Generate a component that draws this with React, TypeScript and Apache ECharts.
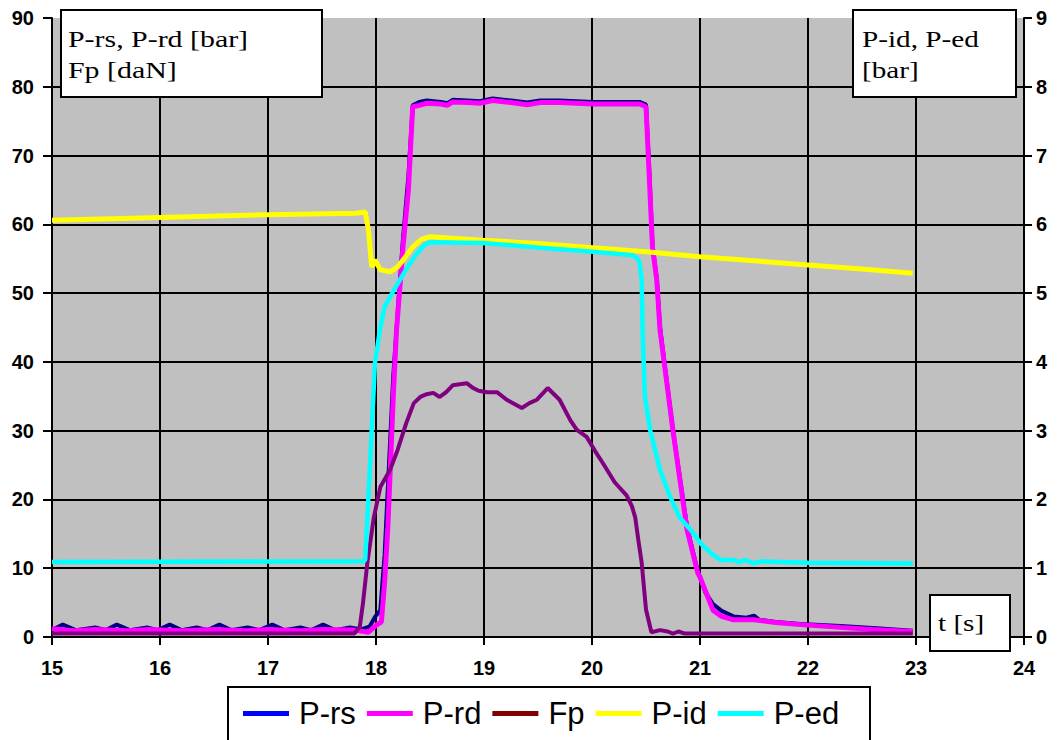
import React, { useEffect, useRef } from "react";
import * as echarts from "echarts";

// Time axis [s] and value pairs [t, value] for each recorded channel
const xTicks = { min: 15, max: 24, step: 1 };
const leftTicks = { min: 0, max: 90, step: 10 };
const rightTicks = { min: 0, max: 9, step: 1 };

const seriesNames = ["P-rs", "P-rd", "Fp", "P-id", "P-ed"];
const legendColors = ["#0000FF", "#FF00FF", "#800000", "#FFFF00", "#00FFFF"];
const lineColors = ["#000080", "#FF00FF", "#800080", "#FFFF00", "#00FFFF"];

// P-rs [bar]
const pRs: [number, number][] = [
  [15.0, 1.0], [15.1, 1.8], [15.22, 1.0], [15.4, 1.4], [15.5, 1.0], [15.6, 1.8],
  [15.72, 1.0], [15.88, 1.4], [15.98, 1.0], [16.09, 1.8], [16.2, 1.0], [16.34, 1.4],
  [16.44, 1.0], [16.55, 1.8], [16.66, 1.0], [16.81, 1.4], [16.92, 1.0], [17.04, 1.8],
  [17.15, 1.0], [17.3, 1.4], [17.4, 1.0], [17.51, 1.8], [17.62, 1.0], [17.76, 1.4],
  [17.86, 1.1], [17.94, 1.5], [17.99, 2.9], [18.04, 3.9], [18.08, 12], [18.12, 25],
  [18.16, 38], [18.2, 47], [18.25, 58], [18.3, 67], [18.34, 77.3], [18.4, 77.8],
  [18.47, 78.0], [18.6, 77.8], [18.66, 77.6], [18.71, 78.1], [18.85, 78.0], [18.96, 77.9],
  [19.08, 78.3], [19.25, 78.0], [19.4, 77.7], [19.52, 78.0], [19.7, 78.0], [20.01, 77.8],
  [20.2, 77.8], [20.44, 77.8], [20.5, 77.4], [20.53, 68], [20.56, 57], [20.6, 52],
  [20.63, 45], [20.75, 30], [20.88, 16], [20.98, 9.5], [21.05, 6.5], [21.12, 4.8],
  [21.2, 3.8], [21.31, 3.0], [21.43, 2.8], [21.5, 3.1], [21.55, 2.5], [21.7, 2.2],
  [21.93, 1.9], [22.3, 1.6], [22.6, 1.3], [22.97, 0.9],
];

// P-rd [bar]
const pRd: [number, number][] = [
  [15.0, 1.2], [15.2, 0.9], [15.4, 1.1], [15.7, 0.9], [15.9, 1.1], [16.2, 0.9],
  [16.5, 1.1], [16.8, 0.9], [17.0, 1.1], [17.3, 0.9], [17.5, 1.1], [17.8, 1.0],
  [17.93, 0.7], [18.0, 1.7], [18.05, 2.2], [18.08, 8], [18.11, 16], [18.16, 35],
  [18.19, 44.6], [18.25, 56.7], [18.3, 65], [18.34, 77.1], [18.4, 77.3], [18.47, 77.6],
  [18.6, 77.5], [18.66, 77.3], [18.71, 77.8], [18.85, 77.7], [18.96, 77.6], [19.08, 78.0],
  [19.25, 77.7], [19.4, 77.4], [19.52, 77.7], [19.7, 77.7], [20.01, 77.5], [20.2, 77.5],
  [20.44, 77.5], [20.5, 77.1], [20.53, 67], [20.56, 56.7], [20.6, 51.9], [20.63, 44.6],
  [20.75, 30], [20.84, 20], [20.88, 15.6], [20.98, 9.3], [21.0, 8.7], [21.12, 3.9],
  [21.2, 3.0], [21.31, 2.5], [21.5, 2.5], [21.7, 2.1], [21.93, 1.8], [22.3, 1.4],
  [22.6, 1.1], [22.97, 0.8],
];

// Fp [daN]
const fp: [number, number][] = [
  [15.0, 0.5], [17.8, 0.5], [17.85, 1.5], [17.88, 5], [17.92, 10.8], [17.98, 17.4],
  [18.04, 21.8], [18.13, 24.3], [18.2, 27.2], [18.28, 31.1], [18.35, 34.0], [18.41, 34.9],
  [18.47, 35.3], [18.53, 35.5], [18.59, 34.9], [18.65, 35.6], [18.71, 36.6], [18.84, 36.9],
  [18.9, 36.2], [18.95, 35.8], [19.03, 35.6], [19.12, 35.6], [19.21, 34.5], [19.35, 33.3],
  [19.42, 34.0], [19.49, 34.5], [19.59, 36.2], [19.7, 34.5], [19.8, 31.5], [19.86, 30.1],
  [19.95, 29.1], [20.03, 27.0], [20.1, 25.3], [20.21, 22.5], [20.32, 20.6], [20.37, 19.0],
  [20.4, 17.4], [20.43, 14.0], [20.46, 10.8], [20.5, 4.0], [20.55, 0.7], [20.63, 1.0],
  [20.7, 0.8], [20.75, 0.5], [20.8, 0.8], [20.86, 0.5], [22.97, 0.5],
];

// P-id [bar]
const pId: [number, number][] = [
  [15.0, 6.06], [16.0, 6.1], [17.0, 6.14], [17.81, 6.16], [17.9, 6.18], [17.93, 5.92],
  [17.96, 5.38], [17.99, 5.48], [18.04, 5.34], [18.13, 5.31], [18.2, 5.38], [18.27, 5.52],
  [18.34, 5.67], [18.42, 5.78], [18.5, 5.82], [18.99, 5.77], [19.5, 5.72], [20.01, 5.66],
  [20.5, 5.6], [21.0, 5.53], [21.5, 5.47], [22.0, 5.41], [22.5, 5.35], [22.97, 5.29],
];

// P-ed [bar]
const pEd: [number, number][] = [
  [15.0, 1.09], [17.88, 1.1], [17.9, 1.12], [17.93, 2.04], [17.96, 3.0], [17.99, 3.98],
  [18.04, 4.5], [18.08, 4.8], [18.15, 5.0], [18.22, 5.19], [18.3, 5.4], [18.38, 5.58],
  [18.45, 5.7], [18.5, 5.74], [18.99, 5.73], [19.52, 5.66], [20.01, 5.6], [20.38, 5.55],
  [20.42, 5.5], [20.44, 5.45], [20.46, 5.19], [20.47, 4.4], [20.49, 3.49], [20.54, 3.0],
  [20.63, 2.43], [20.72, 2.05], [20.81, 1.74], [20.94, 1.51], [21.0, 1.37], [21.1, 1.22],
  [21.19, 1.12], [21.31, 1.12], [21.36, 1.09], [21.42, 1.12], [21.5, 1.07], [21.56, 1.1],
  [22.0, 1.08], [22.97, 1.07],
];

const seriesData = [pRs, pRd, fp, pId, pEd];
const seriesAxis = [0, 0, 0, 1, 1];
const seriesWidth = [4, 5, 4, 5, 4.5];

const SANS = "'Liberation Sans', Arial, Helvetica, sans-serif";
const SERIF = "'Liberation Serif', 'Times New Roman', serif";

export default function App() {
  const ref = useRef<HTMLDivElement>(null);

  useEffect(() => {
    if (!ref.current) return;
    const chart = echarts.init(ref.current, null, { renderer: "svg" });

    const axisLabel = {
      color: "#000",
      fontFamily: SANS,
      fontWeight: "bold" as const,
      fontSize: 20,
    };

    const option: any = {
      animation: false,
      backgroundColor: "#fff",
      grid: {
        left: 52,
        right: 34,
        top: 18,
        bottom: 103,
        show: true,
        backgroundColor: "#C0C0C0",
        borderWidth: 0,
      },
      xAxis: {
        type: "value",
        min: xTicks.min,
        max: xTicks.max,
        interval: xTicks.step,
        axisLine: { show: true, onZero: false, lineStyle: { color: "#000", width: 2 } },
        axisTick: { show: true, length: 8, lineStyle: { color: "#000", width: 2 } },
        axisLabel: { ...axisLabel, margin: 21 },
        splitLine: { show: true, lineStyle: { color: "#000", width: 2 } },
      },
      yAxis: [
        {
          type: "value",
          position: "left",
          min: leftTicks.min,
          max: leftTicks.max,
          interval: leftTicks.step,
          axisLine: { show: true, lineStyle: { color: "#000", width: 2 } },
          axisTick: { show: true, length: 9, lineStyle: { color: "#000", width: 2 } },
          axisLabel: { ...axisLabel, margin: 18 },
          splitLine: {
            show: true,
            showMinLine: false,
            showMaxLine: false,
            lineStyle: { color: "#000", width: 2 },
          },
        },
        {
          type: "value",
          position: "right",
          min: rightTicks.min,
          max: rightTicks.max,
          interval: rightTicks.step,
          axisLine: { show: true, lineStyle: { color: "#000", width: 2 } },
          axisTick: { show: true, length: 8, lineStyle: { color: "#000", width: 2 } },
          axisLabel: { ...axisLabel, margin: 12 },
          splitLine: { show: false },
        },
      ],
      legend: {
        left: 243,
        top: 698,
        icon: "rect",
        itemWidth: 46,
        itemHeight: 5,
        itemGap: 11,
        padding: 0,
        textStyle: {
          color: "#000",
          fontFamily: SANS,
          fontSize: 31,
          padding: [0, 0, 0, 5],
        },
        data: seriesNames.map((name, i) => ({
          name,
          itemStyle: { color: legendColors[i] },
        })),
      },
      series: seriesNames.map((name, i) => ({
        name,
        type: "line",
        yAxisIndex: seriesAxis[i],
        data: seriesData[i],
        showSymbol: false,
        symbol: "none",
        smooth: false,
        color: lineColors[i],
        lineStyle: { color: lineColors[i], width: seriesWidth[i] },
        z: 2 + i,
      })),
      graphic: [
        {
          type: "rect",
          z: 100,
          shape: { x: 61, y: 10, width: 261, height: 87 },
          style: { fill: "#fff", stroke: "#000", lineWidth: 2 },
        },
        {
          type: "text",
          z: 101,
          x: 68,
          y: 24,
          scaleX: 1.3,
          style: {
            text: "P-rs, P-rd [bar]\nFp [daN]",
            font: `23px ${SERIF}`,
            lineHeight: 31,
            fill: "#000",
            verticalAlign: "top",
          },
        },
        {
          type: "rect",
          z: 100,
          shape: { x: 853, y: 10, width: 163, height: 87 },
          style: { fill: "#fff", stroke: "#000", lineWidth: 2 },
        },
        {
          type: "text",
          z: 101,
          x: 862,
          y: 24,
          scaleX: 1.27,
          style: {
            text: "P-id, P-ed\n[bar]",
            font: `23px ${SERIF}`,
            lineHeight: 31,
            fill: "#000",
            verticalAlign: "top",
          },
        },
        {
          type: "rect",
          z: 100,
          shape: { x: 930, y: 595, width: 80, height: 56 },
          style: { fill: "#fff", stroke: "#000", lineWidth: 2 },
        },
        {
          type: "text",
          z: 101,
          x: 938,
          y: 624,
          scaleX: 1.27,
          style: {
            text: "t [s]",
            font: `23px ${SERIF}`,
            fill: "#000",
            verticalAlign: "middle",
          },
        },
        {
          type: "rect",
          z: 3,
          shape: { x: 228, y: 687, width: 642, height: 60 },
          style: { fill: "#fff", stroke: "#000", lineWidth: 2 },
        },
      ],
    };

    chart.setOption(option);
    return () => chart.dispose();
  }, []);

  return (
    <div
      ref={ref}
      style={{ position: "absolute", left: 0, top: 0, width: 1058, height: 740 }}
    />
  );
}
